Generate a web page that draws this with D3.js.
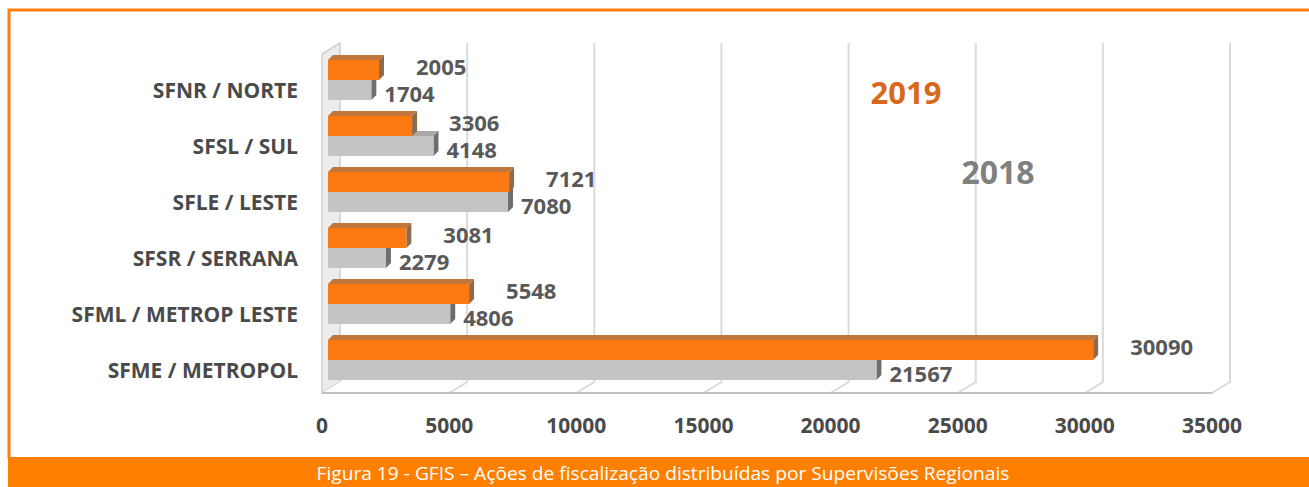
<!DOCTYPE html>
<html>
<head>
<meta charset="utf-8">
<script src="https://cdn.jsdelivr.net/npm/d3@7"></script>
<style>
  body { margin: 0; background: #fff; }
  svg { display: block; }
</style>
</head>
<body>
<div id="chart"></div>
<script>
// data
const categories = ["SFNR / NORTE", "SFSL / SUL", "SFLE / LESTE", "SFSR / SERRANA", "SFML / METROP LESTE", "SFME / METROPOL"];
const values2019 = [2005, 3306, 7121, 3081, 5548, 30090];
const values2018 = [1704, 4148, 7080, 2279, 4806, 21567];
const xTicks = [0, 5000, 10000, 15000, 20000, 25000, 30000, 35000];
const seriesNames = ["2019", "2018"];
const caption = "Figura 19  - GFIS – Ações de fiscalização distribuídas por Supervisões Regionais";

const width = 1309, height = 487;
const font = "'Open Sans', 'DejaVu Sans', sans-serif";

const svg = d3.select("#chart").append("svg")
    .attr("width", width)
    .attr("height", height);

// frame
svg.append("path")
    .attr("d", `M9,458 L9,10 L${width},10`)
    .attr("fill", "none")
    .attr("stroke", "#ff7f0e")
    .attr("stroke-width", 3);

// 3d geometry
const depthX = 18, depthY = -11;
const floorY = 393;
const xFront = d3.scaleLinear().domain([0, 35000]).range([322, 1212]);
const xBack = v => xFront(v) + depthX;
const xBar = d3.scaleLinear().domain([0, 35000]).range([328, 1218]);
const wallTop = 43;

const y = d3.scaleBand()
    .domain(categories)
    .range([52, 388])
    .paddingInner(16 / 56)
    .paddingOuter(8 / 56);
const ySeries = d3.scaleBand().domain(seriesNames).range([0, y.bandwidth()]);

// left wall
svg.append("polygon")
    .attr("points", [[xFront(0), floorY], [xFront(0), wallTop - depthY], [xBack(0), wallTop], [xBack(0), floorY + depthY]].join(" "))
    .attr("fill", "#ececec")
    .attr("stroke", "#cfcfcf")
    .attr("stroke-width", 1.5);

// floor
svg.append("polygon")
    .attr("points", [[xFront(0), floorY], [xFront(35000), floorY], [xBack(35000), floorY + depthY], [xBack(0), floorY + depthY]].join(" "))
    .attr("fill", "#fff");

// gridlines on back wall and floor
const grid = svg.append("g").attr("stroke", "#dadada").attr("stroke-width", 2).attr("fill", "none");
xTicks.filter(d => d > 0).forEach(t => {
    grid.append("path")
        .attr("d", `M${xBack(t)},${wallTop} L${xBack(t)},${floorY + depthY} L${xFront(t)},${floorY}`);
});

svg.append("line")
    .attr("x1", xFront(0)).attr("x2", xFront(35000))
    .attr("y1", floorY).attr("y2", floorY)
    .attr("stroke", "#bfbfbf").attr("stroke-width", 2);

// bars
const colors = {
    "2019": { front: "#fd7a12", top: "#c0763c", side: "#8e6b4c" },
    "2018": { front: "#c4c4c4", top: "#a9a9a9", side: "#6e6e6e" }
};
const bd = 5; // bar depth
const rows = categories.map((c, i) => ({ cat: c, "2019": values2019[i], "2018": values2018[i] }));

const barG = svg.append("g");
rows.forEach(r => {
    ["2018", "2019"].forEach(s => {
        const y0 = y(r.cat) + ySeries(s);
        const y1 = y0 + ySeries.bandwidth();
        const x0 = xBar(0), x1 = xBar(r[s]);
        const col = colors[s];
        barG.append("polygon")
            .attr("points", [[x0, y0], [x0 + bd, y0 - bd], [x1 + bd, y0 - bd], [x1, y0]].join(" "))
            .attr("fill", col.top);
        barG.append("polygon")
            .attr("points", [[x1, y0], [x1 + bd, y0 - bd], [x1 + bd, y1 - bd], [x1, y1]].join(" "))
            .attr("fill", col.side);
        barG.append("rect")
            .attr("x", x0).attr("y", y0)
            .attr("width", x1 - x0).attr("height", y1 - y0)
            .attr("fill", col.front);
    });
});

// value labels
const labelG = svg.append("g")
    .attr("font-family", font)
    .attr("font-weight", 700)
    .attr("font-size", 22)
    .attr("fill", "#595959");
rows.forEach(r => {
    const yo = y(r.cat) + ySeries("2019") + ySeries.bandwidth() / 2;
    labelG.append("text")
        .attr("x", xBar(r["2019"]) + bd + 32)
        .attr("y", yo - 4)
        .attr("dominant-baseline", "central")
        .text(r["2019"]);
    const yg = y(r.cat) + ySeries("2018") + ySeries.bandwidth() / 2;
    labelG.append("text")
        .attr("x", xBar(r["2018"]) + bd + 8)
        .attr("y", yg + 3)
        .attr("dominant-baseline", "central")
        .text(r["2018"]);
});

// category axis labels
svg.append("g")
    .attr("font-family", font)
    .attr("font-weight", 700)
    .attr("font-size", 21)
    .attr("fill", "#4a4a4a")
    .attr("text-anchor", "end")
    .selectAll("text")
    .data(categories)
    .join("text")
    .attr("x", 298)
    .attr("y", d => y(d) + y.bandwidth() / 2 + 10)
    .attr("dominant-baseline", "central")
    .text(d => d);

// value axis tick labels
svg.append("g")
    .attr("font-family", font)
    .attr("font-weight", 700)
    .attr("font-size", 21)
    .attr("fill", "#4a4a4a")
    .attr("text-anchor", "middle")
    .selectAll("text")
    .data(xTicks)
    .join("text")
    .attr("x", d => xFront(d))
    .attr("y", 425)
    .attr("dominant-baseline", "central")
    .text(d => d);

// series captions inside the plot
svg.append("text")
    .attr("x", 906).attr("y", 92)
    .attr("text-anchor", "middle").attr("dominant-baseline", "central")
    .attr("font-family", font).attr("font-weight", 700).attr("font-size", 31)
    .attr("fill", "#d8691c")
    .text(seriesNames[0]);
svg.append("text")
    .attr("x", 998).attr("y", 171)
    .attr("text-anchor", "middle").attr("dominant-baseline", "central")
    .attr("font-family", font).attr("font-weight", 700).attr("font-size", 32)
    .attr("fill", "#808080")
    .text(seriesNames[1]);

// caption bar
svg.append("rect")
    .attr("x", 8).attr("y", 457)
    .attr("width", width - 8).attr("height", height - 457)
    .attr("fill", "#ff7f00");
svg.append("text")
    .attr("x", 663).attr("y", 473)
    .attr("text-anchor", "middle").attr("dominant-baseline", "central")
    .attr("font-family", font).attr("font-size", 18)
    .attr("textLength", 693).attr("lengthAdjust", "spacingAndGlyphs")
    .attr("fill", "#fff")
    .text(caption);
</script>
</body>
</html>
